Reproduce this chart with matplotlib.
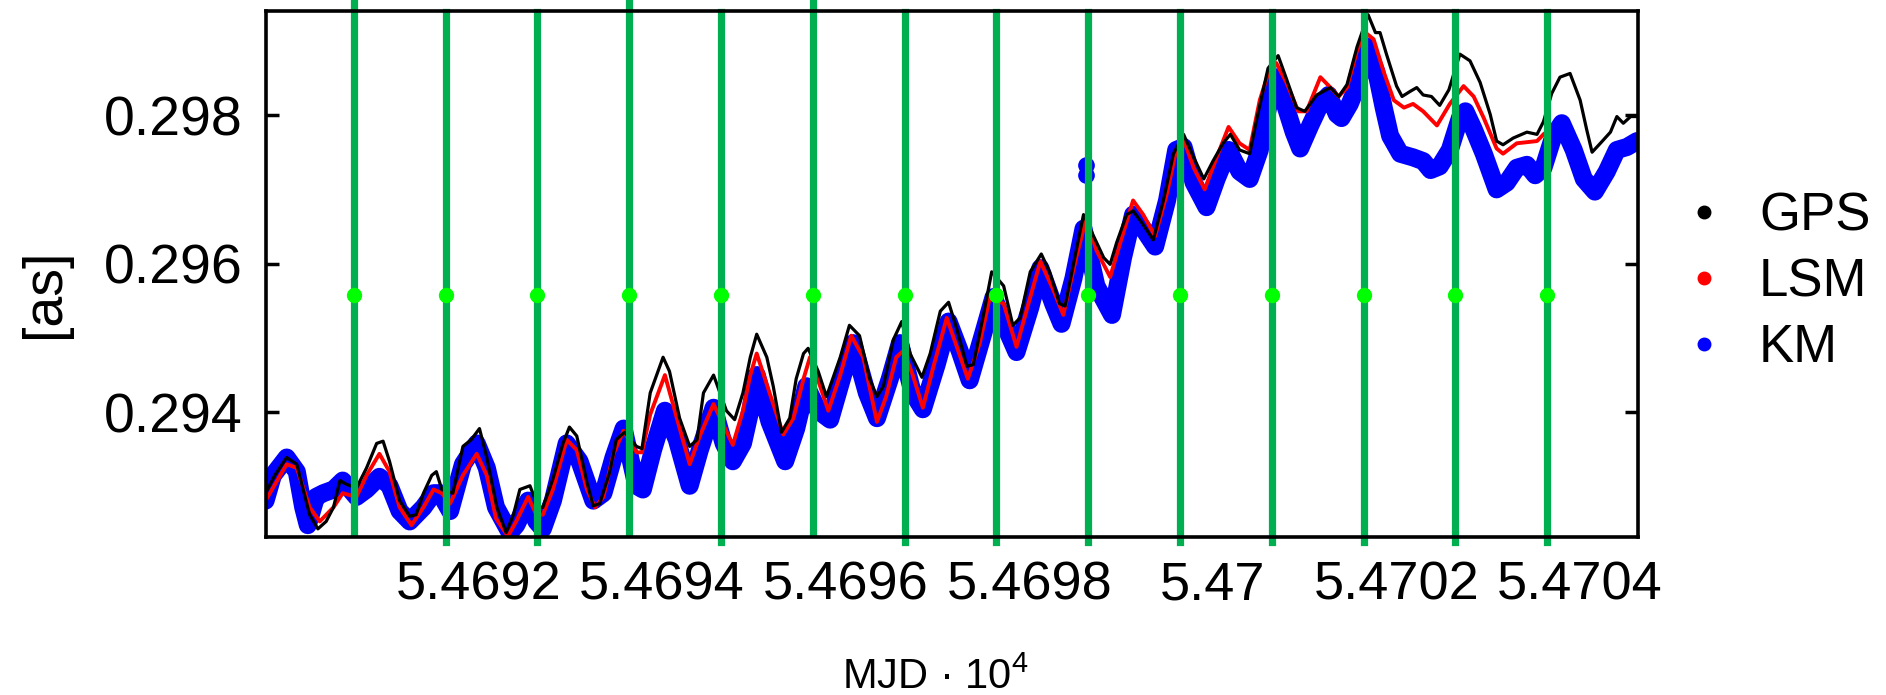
import numpy as np
import matplotlib.pyplot as plt
import matplotlib.transforms as mtransforms
from matplotlib.lines import Line2D

plt.rcParams['font.family'] = ['Liberation Sans', 'DejaVu Sans']
plt.rcParams['mathtext.fontset'] = 'custom'
plt.rcParams['mathtext.rm'] = 'Liberation Sans'

# ---- data (MJD days, arcseconds) ----
gps_mjd = [54690.04, 54690.14, 54690.27, 54690.38, 54690.52, 54690.61, 54690.70, 54690.78, 54690.85, 54690.92,
           54691.03, 54691.14, 54691.25, 54691.32, 54691.39, 54691.50, 54691.61, 54691.68, 54691.76, 54691.85,
           54691.90, 54691.96, 54692.08, 54692.19, 54692.28, 54692.37, 54692.45, 54692.56, 54692.66, 54692.74,
           54692.81, 54692.92, 54693.01, 54693.06, 54693.17, 54693.28, 54693.35, 54693.43, 54693.54, 54693.61,
           54693.68, 54693.79, 54693.86, 54693.95, 54694.08, 54694.14, 54694.23, 54694.37, 54694.44, 54694.55,
           54694.66, 54694.74, 54694.81, 54694.92, 54694.99, 54695.06, 54695.15, 54695.24, 54695.32,
           54695.39, 54695.50, 54695.57, 54695.66, 54695.75, 54695.82, 54695.90, 54695.95, 54696.06, 54696.15,
           54696.30, 54696.40, 54696.51, 54696.62, 54696.70, 54696.77, 54696.88, 54696.97, 54697.06, 54697.19,
           54697.28, 54697.39, 54697.48, 54697.57, 54697.68, 54697.75, 54697.86, 54697.95, 54698.08, 54698.18,
           54698.26, 54698.37, 54698.49, 54698.58, 54698.69, 54698.75, 54698.84, 54698.95, 54699.06, 54699.17,
           54699.24, 54699.31, 54699.42, 54699.49, 54699.58, 54699.71, 54699.82, 54699.93, 54700.04, 54700.15,
           54700.26, 54700.36, 54700.47, 54700.55, 54700.65, 54700.76,
           54700.84, 54700.96, 54701.07, 54701.16, 54701.27, 54701.36, 54701.49, 54701.64, 54701.73, 54701.82,
           54701.93, 54702.05, 54702.13, 54702.18, 54702.25, 54702.36, 54702.42, 54702.51, 54702.58, 54702.65,
           54702.74, 54702.83, 54702.93, 54703.05, 54703.16, 54703.27, 54703.38, 54703.45, 54703.52, 54703.63,
           54703.78, 54703.89, 54703.96, 54704.05, 54704.14, 54704.25, 54704.36, 54704.43, 54704.49, 54704.58,
           54704.69, 54704.76, 54704.83, 54704.91, 54704.98]
gps_val = [0.29291, 0.29315, 0.29339, 0.29330, 0.29262, 0.29243, 0.29253, 0.29272, 0.29308, 0.29303,
           0.29298, 0.29325, 0.29358, 0.29361, 0.29334, 0.29281, 0.29260, 0.29262, 0.29291, 0.29315,
           0.29320, 0.29296, 0.29291, 0.29354, 0.29363, 0.29378, 0.29339, 0.29272, 0.29238, 0.29262,
           0.29296, 0.29301, 0.29272, 0.29272, 0.29310, 0.29358, 0.29380, 0.29368, 0.29306, 0.29274,
           0.29277, 0.29320, 0.29363, 0.29373, 0.29354, 0.29351, 0.29426, 0.29474, 0.29455, 0.29392,
           0.29354, 0.29363, 0.29426, 0.29450, 0.29426, 0.29402, 0.29390, 0.29426, 0.29474,
           0.29505, 0.29474, 0.29435, 0.29373, 0.29392, 0.29445, 0.29479, 0.29486, 0.29455, 0.29421,
           0.29474, 0.29517, 0.29503, 0.29445, 0.29421, 0.29435, 0.29498, 0.29522, 0.29479, 0.29447,
           0.29479, 0.29536, 0.29548, 0.29512, 0.29462, 0.29464, 0.29531, 0.29589, 0.29570, 0.29517,
           0.29527, 0.29589, 0.29613, 0.29589, 0.29546, 0.29543, 0.29599, 0.29666, 0.29637, 0.29608,
           0.29599, 0.29628, 0.29666, 0.29671, 0.29656, 0.29632, 0.29685, 0.29748, 0.29774, 0.29743,
           0.29714, 0.29738, 0.29762, 0.29774, 0.29753, 0.29748,
           0.29796, 0.29863, 0.29880, 0.29849, 0.29810, 0.29805, 0.29827, 0.29837, 0.29825, 0.29841,
           0.29892, 0.29935, 0.29911, 0.29911, 0.29882, 0.29839, 0.29825, 0.29832, 0.29837, 0.29827,
           0.29825, 0.29813, 0.29834, 0.29882, 0.29873, 0.29844, 0.29801, 0.29765, 0.29760, 0.29769,
           0.29777, 0.29774, 0.29791, 0.29829, 0.29851, 0.29856, 0.29820, 0.29781, 0.29750, 0.29762,
           0.29777, 0.29798, 0.29789, 0.29798, 0.29798]

lsm_mjd = [54690.04, 54690.27, 54690.38, 54690.52, 54690.63, 54690.78, 54690.88, 54691.03, 54691.14, 54691.28,
           54691.39, 54691.50, 54691.63, 54691.76, 54691.87, 54691.96, 54692.05, 54692.19, 54692.34, 54692.45,
           54692.55, 54692.68, 54692.77, 54692.90, 54692.99, 54693.06, 54693.17, 54693.32, 54693.43, 54693.54,
           54693.63, 54693.72, 54693.83, 54693.94, 54694.08, 54694.14, 54694.23, 54694.39, 54694.52, 54694.66,
           54694.77, 54694.92, 54695.03, 54695.13, 54695.24, 54695.32,
           54695.39, 54695.53, 54695.68, 54695.79, 54695.90, 54695.97, 54696.04, 54696.17, 54696.30, 54696.42,
           54696.55, 54696.70, 54696.80, 54696.91, 54696.99, 54697.09, 54697.20, 54697.31, 54697.46, 54697.57,
           54697.69, 54697.82, 54697.93, 54698.08, 54698.22, 54698.37, 54698.48, 54698.62, 54698.73, 54698.87,
           54698.98, 54699.09, 54699.24, 54699.35, 54699.49, 54699.60, 54699.73, 54699.86, 54699.96, 54700.04,
           54700.15, 54700.27, 54700.40, 54700.53, 54700.65, 54700.76,
           54700.87, 54700.98, 54701.05, 54701.16, 54701.29, 54701.38, 54701.53, 54701.64, 54701.73, 54701.82,
           54701.93, 54702.02, 54702.11, 54702.22, 54702.33, 54702.44, 54702.54, 54702.65, 54702.80, 54702.94,
           54703.09, 54703.20, 54703.31, 54703.45, 54703.52, 54703.67, 54703.89, 54703.96]
lsm_val = [0.29281, 0.29330, 0.29325, 0.29272, 0.29253, 0.29272, 0.29291, 0.29286, 0.29315, 0.29344,
           0.29320, 0.29272, 0.29248, 0.29272, 0.29296, 0.29291, 0.29277, 0.29315, 0.29344, 0.29315,
           0.29257, 0.29233, 0.29253, 0.29286, 0.29262, 0.29262, 0.29296, 0.29363, 0.29349, 0.29296,
           0.29272, 0.29286, 0.29344, 0.29375, 0.29346, 0.29346, 0.29397, 0.29450, 0.29392, 0.29330,
           0.29368, 0.29411, 0.29382, 0.29356, 0.29402, 0.29450,
           0.29479, 0.29426, 0.29370, 0.29392, 0.29445, 0.29474, 0.29450, 0.29402, 0.29450, 0.29503,
           0.29474, 0.29387, 0.29421, 0.29474, 0.29483, 0.29450, 0.29406, 0.29459, 0.29527, 0.29488,
           0.29445, 0.29493, 0.29555, 0.29546, 0.29488, 0.29555, 0.29603, 0.29565, 0.29531, 0.29608,
           0.29661, 0.29618, 0.29582, 0.29628, 0.29685, 0.29666, 0.29637, 0.29695, 0.29753, 0.29767,
           0.29729, 0.29700, 0.29743, 0.29784, 0.29762, 0.29753,
           0.29820, 0.29863, 0.29870, 0.29844, 0.29805, 0.29805, 0.29851, 0.29837, 0.29825, 0.29837,
           0.29887, 0.29911, 0.29902, 0.29858, 0.29820, 0.29810, 0.29815, 0.29805, 0.29786, 0.29815,
           0.29839, 0.29825, 0.29796, 0.29755, 0.29748, 0.29762, 0.29765, 0.29774]

km_mjd = [54690.04, 54690.12, 54690.27, 54690.38, 54690.45, 54690.50, 54690.59, 54690.67, 54690.78, 54690.88,
          54691.03, 54691.14, 54691.28, 54691.39, 54691.50, 54691.61, 54691.76, 54691.87, 54691.94, 54692.05,
          54692.19, 54692.34, 54692.45, 54692.55, 54692.70, 54692.77, 54692.90, 54692.99, 54693.06, 54693.17,
          54693.32, 54693.46, 54693.61, 54693.72, 54693.83, 54693.94, 54694.08, 54694.15, 54694.26, 54694.39,
          54694.52, 54694.66, 54694.77, 54694.92, 54695.03, 54695.13, 54695.24, 54695.32,
          54695.39, 54695.53, 54695.70, 54695.82, 54695.93, 54696.06, 54696.19, 54696.33, 54696.44, 54696.59,
          54696.70, 54696.84, 54696.95, 54697.09, 54697.20, 54697.35, 54697.48, 54697.60, 54697.71, 54697.86,
          54697.97, 54698.11, 54698.22, 54698.37, 54698.48, 54698.62, 54698.71, 54698.84, 54698.95, 54699.09,
          54699.26, 54699.38, 54699.49, 54699.60, 54699.73, 54699.86, 54699.96, 54700.04, 54700.15, 54700.29,
          54700.40, 54700.53, 54700.65, 54700.76,
          54700.87, 54700.96, 54701.04, 54701.13, 54701.24, 54701.31, 54701.42, 54701.53, 54701.62, 54701.71,
          54701.76, 54701.85, 54701.93, 54702.04, 54702.14, 54702.22, 54702.29, 54702.40, 54702.54, 54702.65,
          54702.73, 54702.83, 54702.94, 54703.05, 54703.11, 54703.20, 54703.31, 54703.45, 54703.56, 54703.67,
          54703.78, 54703.87, 54703.96, 54704.07, 54704.16, 54704.29, 54704.40, 54704.52, 54704.65, 54704.76,
          54704.87, 54704.98]
km_val = [0.29281, 0.29315, 0.29339, 0.29320, 0.29272, 0.29248, 0.29286, 0.29291, 0.29296, 0.29308,
          0.29286, 0.29296, 0.29313, 0.29301, 0.29267, 0.29253, 0.29272, 0.29291, 0.29291, 0.29267,
          0.29330, 0.29358, 0.29325, 0.29272, 0.29238, 0.29248, 0.29281, 0.29253, 0.29243, 0.29281,
          0.29358, 0.29334, 0.29281, 0.29291, 0.29339, 0.29378, 0.29301, 0.29296, 0.29349, 0.29402,
          0.29363, 0.29301, 0.29349, 0.29406, 0.29358, 0.29334, 0.29358, 0.29402,
          0.29450, 0.29387, 0.29334, 0.29378, 0.29435, 0.29402, 0.29390, 0.29450, 0.29493, 0.29426,
          0.29392, 0.29445, 0.29493, 0.29426, 0.29404, 0.29464, 0.29522, 0.29483, 0.29443, 0.29507,
          0.29555, 0.29512, 0.29481, 0.29541, 0.29594, 0.29546, 0.29519, 0.29580, 0.29647, 0.29570,
          0.29531, 0.29608, 0.29666, 0.29647, 0.29623, 0.29685, 0.29753, 0.29757, 0.29709, 0.29676,
          0.29714, 0.29753, 0.29724, 0.29714,
          0.29753, 0.29810, 0.29851, 0.29820, 0.29777, 0.29755, 0.29786, 0.29815, 0.29827, 0.29801,
          0.29796, 0.29815, 0.29839, 0.29892, 0.29858, 0.29810, 0.29772, 0.29748, 0.29743, 0.29738,
          0.29726, 0.29731, 0.29753, 0.29796, 0.29805, 0.29781, 0.29748, 0.29700, 0.29709, 0.29729,
          0.29733, 0.29719, 0.29729, 0.29772, 0.29789, 0.29753, 0.29714, 0.29697, 0.29724, 0.29753,
          0.29757, 0.29765]

# stray KM points above the curve near MJD 54699
km_out_mjd = [54698.98, 54698.98]
km_out_val = [0.29733, 0.29719]

# daily boundaries (green) and their marker level
day_marks = list(range(54691, 54705))
mark_level = 0.29558

xtick_mjd = [54692, 54694, 54696, 54698, 54700, 54702, 54704]
xtick_labels = ['5.4692', '5.4694', '5.4696', '5.4698', '5.47', '5.4702', '5.4704']
ytick_vals = [0.294, 0.296, 0.298]
ytick_labels = ['0.294', '0.296', '0.298']

# ---- figure ----
fig = plt.figure(figsize=(18.86, 6.95), dpi=100)
ax = fig.add_axes([0.1413, 0.2273, 0.7272, 0.7568])

to_x = lambda d: np.asarray(d) / 1e4

ax.plot(to_x(km_mjd), km_val, color='#0000ff', lw=13, solid_joinstyle='round',
        solid_capstyle='round', zorder=2)
ax.plot(to_x(km_out_mjd), km_out_val, 'o', color='#0000ff', ms=11, zorder=2)
ax.plot(to_x(lsm_mjd), lsm_val, color='#ff0000', lw=2.8, solid_joinstyle='round', zorder=3)
ax.plot(to_x(gps_mjd), gps_val, color='black', lw=2.3, solid_joinstyle='round', zorder=4)

tall = [0, 3, 5]
for i, d in enumerate(day_marks):
    if i in tall:
        lo, hi = 0.0095, 1.017
    else:
        lo, hi = -0.0095, 0.998
    ax.axvline(d / 1e4, lo, hi, color='#00b050', lw=5.2, zorder=5, clip_on=False)
ax.plot(to_x(day_marks), [mark_level] * len(day_marks), 'o', color='#00ff00',
        ms=10, ls='none', zorder=6)

ax.set_xlim(54690.05 / 1e4, 54704.99 / 1e4)
ax.set_ylim(0.29232, 0.29940)

ax.set_xticks(to_x(xtick_mjd))
ax.set_xticklabels(xtick_labels)
ax.set_yticks(ytick_vals)
ax.set_yticklabels(ytick_labels)
ax.tick_params(direction='in', length=9.5, width=2.5, top=True, right=True, pad=17)
ax.tick_params(axis='x', labelsize=39)
ax.tick_params(axis='y', labelsize=40)
offset = mtransforms.ScaledTranslation(0.33, 0, fig.dpi_scale_trans)
for lab in ax.get_xticklabels():
    lab.set_transform(lab.get_transform() + offset)

for sp in ax.spines.values():
    sp.set_linewidth(2.6)
    sp.set_zorder(7)

fig.text(45 / 1886, 0.578, '[as]', rotation=90, ha='center', va='center', fontsize=40)
fig.text(0.496, 0.008, r'MJD · $\mathrm{10}^{4}$', ha='center', va='baseline', fontsize=30)

handles = [Line2D([], [], ls='none', marker='o', color=c, ms=9)
           for c in ['black', '#ff0000', '#0000ff']]
ax.legend(handles, ['GPS', 'LSM', 'KM'], loc='center left', bbox_to_anchor=(0.8963, 0.594),
          bbox_transform=fig.transFigure, frameon=False, fontsize=38, handlelength=0.5,
          handletextpad=0.8, labelspacing=0.3, borderpad=0, borderaxespad=0)

fig.savefig('out.png', dpi=100)
